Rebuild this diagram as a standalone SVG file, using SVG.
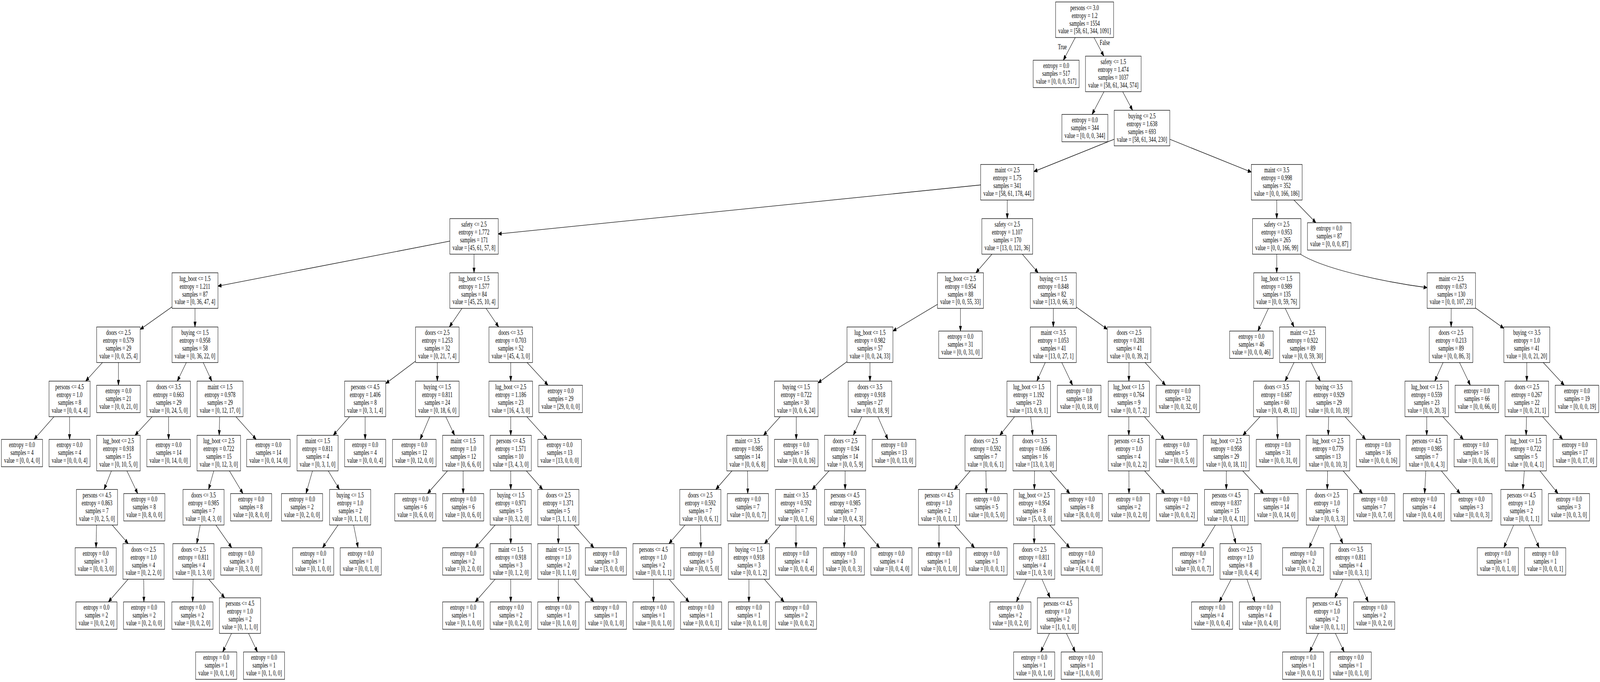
<svg xmlns="http://www.w3.org/2000/svg" xmlns:xlink="http://www.w3.org/1999/xlink" width="6187" height="1745" viewBox="0 0 6187 1745" preserveAspectRatio="none">
<style>
svg{width:100%;height:100%}
.box{fill:#fff;stroke:#000;stroke-width:1.33}
#edges line,#edges path{stroke:#000;stroke-width:1.33;fill:none;marker-end:url(#ah)}
text{font-family:"Liberation Serif","Times New Roman",serif;font-size:18.67px;text-anchor:middle;fill:#000}
</style>
<defs>
<marker id="ah" markerUnits="userSpaceOnUse" markerWidth="14" markerHeight="11" viewBox="0 0 14 11" refX="13.3" refY="5.5" orient="auto"><path d="M0,0.5 L13.3,5.5 L0,10.5 z" fill="#000" stroke="#000" stroke-width="1"/></marker>
<rect id="D4" class="box" x="-79.5" y="-45.5" width="159" height="91"/>
<rect id="D5" class="box" x="-84.2" y="-45.5" width="168.4" height="91"/>
<rect id="D6" class="box" x="-88.85" y="-45.5" width="177.7" height="91"/>
<rect id="D7" class="box" x="-93.5" y="-45.5" width="187" height="91"/>
<rect id="D8" class="box" x="-98.2" y="-45.5" width="196.4" height="91"/>
<rect id="D9" class="box" x="-102.85" y="-45.5" width="205.7" height="91"/>
<rect id="D10" class="box" x="-107.55" y="-45.5" width="215.1" height="91"/>
<rect id="D11" class="box" x="-112.2" y="-45.5" width="224.4" height="91"/>
<rect id="L4" class="box" x="-79.5" y="-35" width="159" height="70"/>
<rect id="L5" class="box" x="-84.2" y="-35" width="168.4" height="70"/>
<rect id="L6" class="box" x="-88.85" y="-35" width="177.7" height="70"/>
</defs>
<rect x="0" y="0" width="6187" height="1745" fill="#fff"/>
<g id="edges">
<line x1="4194" y1="50.5" x2="4111.9" y2="154.1"/>
<line x1="4194" y1="50.5" x2="4268.4" y2="143.6"/>
<line x1="4305" y1="189.1" x2="4222.9" y2="292.7"/>
<line x1="4305" y1="189.1" x2="4379.4" y2="282.2"/>
<line x1="4416" y1="327.7" x2="3997.9" y2="439"/>
<line x1="4416" y1="327.7" x2="4838.8" y2="440.3"/>
<line x1="3895" y1="466.3" x2="1926.5" y2="598.6"/>
<line x1="3895" y1="466.3" x2="3895" y2="559.4"/>
<line x1="4937" y1="466.3" x2="4937" y2="559.4"/>
<line x1="4937" y1="466.3" x2="5088.5" y2="569.9"/>
<line x1="1833" y1="604.9" x2="842.9" y2="732.1"/>
<line x1="1833" y1="604.9" x2="1833" y2="698"/>
<line x1="754" y1="743.5" x2="542.2" y2="842.8"/>
<line x1="754" y1="743.5" x2="754" y2="836.6"/>
<line x1="458" y1="882.1" x2="331.3" y2="975.2"/>
<line x1="458" y1="882.1" x2="458" y2="985.7"/>
<line x1="269" y1="1020.7" x2="131.7" y2="1124.3"/>
<line x1="269" y1="1020.7" x2="269" y2="1124.3"/>
<line x1="754" y1="882.1" x2="685.6" y2="975.2"/>
<line x1="754" y1="882.1" x2="819" y2="975.2"/>
<line x1="652" y1="1020.7" x2="522" y2="1113.8"/>
<line x1="652" y1="1020.7" x2="652" y2="1124.3"/>
<line x1="458" y1="1159.3" x2="402.4" y2="1252.4"/>
<line x1="458" y1="1159.3" x2="532.6" y2="1262.9"/>
<line x1="375" y1="1297.9" x2="371.3" y2="1401.5"/>
<line x1="375" y1="1297.9" x2="495.7" y2="1391"/>
<line x1="555" y1="1436.5" x2="419.2" y2="1540.1"/>
<line x1="555" y1="1436.5" x2="556.5" y2="1540.1"/>
<line x1="851" y1="1020.7" x2="847.6" y2="1113.8"/>
<line x1="851" y1="1020.7" x2="990.6" y2="1124.3"/>
<line x1="846" y1="1159.3" x2="806.5" y2="1252.4"/>
<line x1="846" y1="1159.3" x2="939.3" y2="1262.9"/>
<line x1="787" y1="1297.9" x2="760.9" y2="1391"/>
<line x1="787" y1="1297.9" x2="896" y2="1401.5"/>
<line x1="748" y1="1436.5" x2="745" y2="1540.1"/>
<line x1="748" y1="1436.5" x2="868.7" y2="1529.6"/>
<line x1="928" y1="1575.1" x2="861.1" y2="1668.2"/>
<line x1="928" y1="1575.1" x2="995.6" y2="1668.2"/>
<line x1="1833" y1="743.5" x2="1737.8" y2="836.6"/>
<line x1="1833" y1="743.5" x2="1928.2" y2="836.6"/>
<line x1="1691" y1="882.1" x2="1491.5" y2="981.4"/>
<line x1="1691" y1="882.1" x2="1691" y2="975.2"/>
<line x1="1412" y1="1020.7" x2="1288.7" y2="1113.8"/>
<line x1="1412" y1="1020.7" x2="1412" y2="1124.3"/>
<line x1="1228" y1="1159.3" x2="1183.2" y2="1262.9"/>
<line x1="1228" y1="1159.3" x2="1312.5" y2="1252.4"/>
<line x1="1354" y1="1297.9" x2="1247.3" y2="1401.5"/>
<line x1="1354" y1="1297.9" x2="1384.6" y2="1401.5"/>
<line x1="1691" y1="1020.7" x2="1624.6" y2="1124.3"/>
<line x1="1691" y1="1020.7" x2="1758" y2="1113.8"/>
<line x1="1791" y1="1159.3" x2="1652.9" y2="1262.9"/>
<line x1="1791" y1="1159.3" x2="1791" y2="1262.9"/>
<line x1="1975" y1="882.1" x2="1975" y2="975.2"/>
<line x1="1975" y1="882.1" x2="2119.1" y2="985.7"/>
<line x1="1975" y1="1020.7" x2="1975" y2="1113.8"/>
<line x1="1975" y1="1020.7" x2="2116.1" y2="1124.3"/>
<line x1="1975" y1="1159.3" x2="1975" y2="1252.4"/>
<line x1="1975" y1="1159.3" x2="2098.3" y2="1252.4"/>
<line x1="1975" y1="1297.9" x2="1837.7" y2="1401.5"/>
<line x1="1975" y1="1297.9" x2="1975" y2="1391"/>
<line x1="1975" y1="1436.5" x2="1837.7" y2="1540.1"/>
<line x1="1975" y1="1436.5" x2="1975" y2="1540.1"/>
<line x1="2159" y1="1297.9" x2="2159" y2="1391"/>
<line x1="2159" y1="1297.9" x2="2296.3" y2="1401.5"/>
<line x1="2159" y1="1436.5" x2="2159" y2="1540.1"/>
<line x1="2159" y1="1436.5" x2="2296.3" y2="1540.1"/>
<line x1="3895" y1="604.9" x2="3773.7" y2="698"/>
<line x1="3895" y1="604.9" x2="4014.3" y2="698"/>
<line x1="3714" y1="743.5" x2="3452.9" y2="847"/>
<line x1="3714" y1="743.5" x2="3714" y2="847.1"/>
<line x1="3364" y1="882.1" x2="3163.2" y2="979.9"/>
<line x1="3364" y1="882.1" x2="3364" y2="975.2"/>
<line x1="3079" y1="1020.7" x2="2952.3" y2="1113.8"/>
<line x1="3079" y1="1020.7" x2="3079" y2="1124.3"/>
<line x1="2890" y1="1159.3" x2="2768" y2="1252.4"/>
<line x1="2890" y1="1159.3" x2="2891.5" y2="1262.9"/>
<line x1="2708" y1="1297.9" x2="2586.7" y2="1391"/>
<line x1="2708" y1="1297.9" x2="2710.2" y2="1401.5"/>
<line x1="2527" y1="1436.5" x2="2527" y2="1540.1"/>
<line x1="2527" y1="1436.5" x2="2664.3" y2="1540.1"/>
<line x1="3364" y1="1020.7" x2="3299.7" y2="1113.8"/>
<line x1="3364" y1="1020.7" x2="3433.4" y2="1124.3"/>
<line x1="3268" y1="1159.3" x2="3140.6" y2="1252.4"/>
<line x1="3268" y1="1159.3" x2="3268" y2="1252.4"/>
<line x1="3078" y1="1297.9" x2="2956" y2="1391"/>
<line x1="3078" y1="1297.9" x2="3078" y2="1401.5"/>
<line x1="2896" y1="1436.5" x2="2896" y2="1540.1"/>
<line x1="2896" y1="1436.5" x2="3031.8" y2="1540.1"/>
<line x1="3268" y1="1297.9" x2="3264.3" y2="1401.5"/>
<line x1="3268" y1="1297.9" x2="3401.6" y2="1401.5"/>
<line x1="4073" y1="743.5" x2="4073" y2="836.6"/>
<line x1="4073" y1="743.5" x2="4281.8" y2="842.4"/>
<line x1="4073" y1="882.1" x2="4009.3" y2="975.2"/>
<line x1="4073" y1="882.1" x2="4147.6" y2="985.7"/>
<line x1="3978" y1="1020.7" x2="3866.1" y2="1113.8"/>
<line x1="3978" y1="1020.7" x2="3993.4" y2="1113.8"/>
<line x1="3811" y1="1159.3" x2="3690.3" y2="1252.4"/>
<line x1="3811" y1="1159.3" x2="3814" y2="1262.9"/>
<line x1="3631" y1="1297.9" x2="3631" y2="1401.5"/>
<line x1="3631" y1="1297.9" x2="3768.3" y2="1401.5"/>
<line x1="4001" y1="1159.3" x2="3999.7" y2="1252.4"/>
<line x1="4001" y1="1159.3" x2="4136.8" y2="1262.9"/>
<line x1="3999" y1="1297.9" x2="3999" y2="1391"/>
<line x1="3999" y1="1297.9" x2="4136.3" y2="1401.5"/>
<line x1="3999" y1="1436.5" x2="3930.3" y2="1540.1"/>
<line x1="3999" y1="1436.5" x2="4060.7" y2="1529.6"/>
<line x1="4091" y1="1575.1" x2="4024.1" y2="1668.2"/>
<line x1="4091" y1="1575.1" x2="4157.9" y2="1668.2"/>
<line x1="4366" y1="882.1" x2="4365.3" y2="975.2"/>
<line x1="4366" y1="882.1" x2="4507.1" y2="985.7"/>
<line x1="4365" y1="1020.7" x2="4365" y2="1113.8"/>
<line x1="4365" y1="1020.7" x2="4502.3" y2="1124.3"/>
<line x1="4365" y1="1159.3" x2="4365.7" y2="1262.9"/>
<line x1="4365" y1="1159.3" x2="4503.8" y2="1262.9"/>
<line x1="4937" y1="604.9" x2="4937" y2="698"/>
<path d="M5030,651 C5130,692 5380,724 5518.5,736"/>
<line x1="4937" y1="743.5" x2="4863.9" y2="847.1"/>
<line x1="4937" y1="743.5" x2="5004" y2="836.6"/>
<line x1="5037" y1="882.1" x2="4969.3" y2="975.2"/>
<line x1="5037" y1="882.1" x2="5105.4" y2="975.2"/>
<line x1="4936" y1="1020.7" x2="4806" y2="1113.8"/>
<line x1="4936" y1="1020.7" x2="4940.5" y2="1124.3"/>
<line x1="4742" y1="1159.3" x2="4742" y2="1252.4"/>
<line x1="4742" y1="1159.3" x2="4886.1" y2="1262.9"/>
<line x1="4742" y1="1297.9" x2="4645.7" y2="1401.5"/>
<line x1="4742" y1="1297.9" x2="4778.9" y2="1391"/>
<line x1="4797" y1="1436.5" x2="4714.9" y2="1540.1"/>
<line x1="4797" y1="1436.5" x2="4853" y2="1540.1"/>
<line x1="5139" y1="1020.7" x2="5136.3" y2="1113.8"/>
<line x1="5139" y1="1020.7" x2="5280.8" y2="1124.3"/>
<line x1="5135" y1="1159.3" x2="5132.3" y2="1252.4"/>
<line x1="5135" y1="1159.3" x2="5268.6" y2="1262.9"/>
<line x1="5131" y1="1297.9" x2="5062.3" y2="1401.5"/>
<line x1="5131" y1="1297.9" x2="5192.7" y2="1391"/>
<line x1="5223" y1="1436.5" x2="5161.3" y2="1529.6"/>
<line x1="5223" y1="1436.5" x2="5290.9" y2="1540.1"/>
<line x1="5131" y1="1575.1" x2="5064.1" y2="1668.2"/>
<line x1="5131" y1="1575.1" x2="5197.9" y2="1668.2"/>
<line x1="5612" y1="743.5" x2="5611.3" y2="836.6"/>
<line x1="5612" y1="743.5" x2="5815.1" y2="840.1"/>
<line x1="5611" y1="882.1" x2="5548" y2="975.2"/>
<line x1="5611" y1="882.1" x2="5685.6" y2="985.7"/>
<line x1="5517" y1="1020.7" x2="5517" y2="1113.8"/>
<line x1="5517" y1="1020.7" x2="5658.8" y2="1124.3"/>
<line x1="5517" y1="1159.3" x2="5508.8" y2="1262.9"/>
<line x1="5517" y1="1159.3" x2="5646.1" y2="1262.9"/>
<line x1="5904" y1="882.1" x2="5904" y2="975.2"/>
<line x1="5904" y1="882.1" x2="6048.8" y2="985.7"/>
<line x1="5904" y1="1020.7" x2="5901.3" y2="1113.8"/>
<line x1="5904" y1="1020.7" x2="6042.8" y2="1124.3"/>
<line x1="5900" y1="1159.3" x2="5888.6" y2="1252.4"/>
<line x1="5900" y1="1159.3" x2="6024.6" y2="1262.9"/>
<line x1="5883" y1="1297.9" x2="5815.1" y2="1401.5"/>
<line x1="5883" y1="1297.9" x2="5951.7" y2="1401.5"/>
</g>
<g id="edge-labels">
<text x="4108" y="126">True</text>
<text x="4272" y="115">False</text>
</g>
<g id="n0" transform="translate(4194,50.5)"><use href="#D11"/><text y="-25"><tspan x="0">persons &lt;= 3.0</tspan><tspan x="0" dy="20">entropy = 1.2</tspan><tspan x="0" dy="20">samples = 1554</tspan><tspan x="0" dy="20">value = [58, 61, 344, 1091]</tspan></text></g>
<g id="n1" transform="translate(4084,189.1)"><use href="#L6"/><text y="-15"><tspan x="0">entropy = 0.0</tspan><tspan x="0" dy="20">samples = 517</tspan><tspan x="0" dy="20">value = [0, 0, 0, 517]</tspan></text></g>
<g id="n2" transform="translate(4305,189.1)"><use href="#D10"/><text y="-25"><tspan x="0">safety &lt;= 1.5</tspan><tspan x="0" dy="20">entropy = 1.474</tspan><tspan x="0" dy="20">samples = 1037</tspan><tspan x="0" dy="20">value = [58, 61, 344, 574]</tspan></text></g>
<g id="n3" transform="translate(4195,327.7)"><use href="#L6"/><text y="-15"><tspan x="0">entropy = 0.0</tspan><tspan x="0" dy="20">samples = 344</tspan><tspan x="0" dy="20">value = [0, 0, 0, 344]</tspan></text></g>
<g id="n4" transform="translate(4416,327.7)"><use href="#D10"/><text y="-25"><tspan x="0">buying &lt;= 2.5</tspan><tspan x="0" dy="20">entropy = 1.638</tspan><tspan x="0" dy="20">samples = 693</tspan><tspan x="0" dy="20">value = [58, 61, 344, 230]</tspan></text></g>
<g id="n5" transform="translate(3895,466.3)"><use href="#D9"/><text y="-25"><tspan x="0">maint &lt;= 2.5</tspan><tspan x="0" dy="20">entropy = 1.75</tspan><tspan x="0" dy="20">samples = 341</tspan><tspan x="0" dy="20">value = [58, 61, 178, 44]</tspan></text></g>
<g id="n6" transform="translate(1833,604.9)"><use href="#D7"/><text y="-25"><tspan x="0">safety &lt;= 2.5</tspan><tspan x="0" dy="20">entropy = 1.772</tspan><tspan x="0" dy="20">samples = 171</tspan><tspan x="0" dy="20">value = [45, 61, 57, 8]</tspan></text></g>
<g id="n7" transform="translate(754,743.5)"><use href="#D6"/><text y="-25"><tspan x="0">lug_boot &lt;= 1.5</tspan><tspan x="0" dy="20">entropy = 1.211</tspan><tspan x="0" dy="20">samples = 87</tspan><tspan x="0" dy="20">value = [0, 36, 47, 4]</tspan></text></g>
<g id="n8" transform="translate(458,882.1)"><use href="#D5"/><text y="-25"><tspan x="0">doors &lt;= 2.5</tspan><tspan x="0" dy="20">entropy = 0.579</tspan><tspan x="0" dy="20">samples = 29</tspan><tspan x="0" dy="20">value = [0, 0, 25, 4]</tspan></text></g>
<g id="n9" transform="translate(269,1020.7)"><use href="#D4"/><text y="-25"><tspan x="0">persons &lt;= 4.5</tspan><tspan x="0" dy="20">entropy = 1.0</tspan><tspan x="0" dy="20">samples = 8</tspan><tspan x="0" dy="20">value = [0, 0, 4, 4]</tspan></text></g>
<g id="n10" transform="translate(85,1159.3)"><use href="#L4"/><text y="-15"><tspan x="0">entropy = 0.0</tspan><tspan x="0" dy="20">samples = 4</tspan><tspan x="0" dy="20">value = [0, 0, 4, 0]</tspan></text></g>
<g id="n11" transform="translate(269,1159.3)"><use href="#L4"/><text y="-15"><tspan x="0">entropy = 0.0</tspan><tspan x="0" dy="20">samples = 4</tspan><tspan x="0" dy="20">value = [0, 0, 0, 4]</tspan></text></g>
<g id="n12" transform="translate(458,1020.7)"><use href="#L5"/><text y="-15"><tspan x="0">entropy = 0.0</tspan><tspan x="0" dy="20">samples = 21</tspan><tspan x="0" dy="20">value = [0, 0, 21, 0]</tspan></text></g>
<g id="n13" transform="translate(754,882.1)"><use href="#D6"/><text y="-25"><tspan x="0">buying &lt;= 1.5</tspan><tspan x="0" dy="20">entropy = 0.958</tspan><tspan x="0" dy="20">samples = 58</tspan><tspan x="0" dy="20">value = [0, 36, 22, 0]</tspan></text></g>
<g id="n14" transform="translate(652,1020.7)"><use href="#D5"/><text y="-25"><tspan x="0">doors &lt;= 3.5</tspan><tspan x="0" dy="20">entropy = 0.663</tspan><tspan x="0" dy="20">samples = 29</tspan><tspan x="0" dy="20">value = [0, 24, 5, 0]</tspan></text></g>
<g id="n15" transform="translate(458,1159.3)"><use href="#D5"/><text y="-25"><tspan x="0">lug_boot &lt;= 2.5</tspan><tspan x="0" dy="20">entropy = 0.918</tspan><tspan x="0" dy="20">samples = 15</tspan><tspan x="0" dy="20">value = [0, 10, 5, 0]</tspan></text></g>
<g id="n16" transform="translate(375,1297.9)"><use href="#D4"/><text y="-25"><tspan x="0">persons &lt;= 4.5</tspan><tspan x="0" dy="20">entropy = 0.863</tspan><tspan x="0" dy="20">samples = 7</tspan><tspan x="0" dy="20">value = [0, 2, 5, 0]</tspan></text></g>
<g id="n17" transform="translate(370,1436.5)"><use href="#L4"/><text y="-15"><tspan x="0">entropy = 0.0</tspan><tspan x="0" dy="20">samples = 3</tspan><tspan x="0" dy="20">value = [0, 0, 3, 0]</tspan></text></g>
<g id="n18" transform="translate(555,1436.5)"><use href="#D4"/><text y="-25"><tspan x="0">doors &lt;= 2.5</tspan><tspan x="0" dy="20">entropy = 1.0</tspan><tspan x="0" dy="20">samples = 4</tspan><tspan x="0" dy="20">value = [0, 2, 2, 0]</tspan></text></g>
<g id="n19" transform="translate(373,1575.1)"><use href="#L4"/><text y="-15"><tspan x="0">entropy = 0.0</tspan><tspan x="0" dy="20">samples = 2</tspan><tspan x="0" dy="20">value = [0, 0, 2, 0]</tspan></text></g>
<g id="n20" transform="translate(557,1575.1)"><use href="#L4"/><text y="-15"><tspan x="0">entropy = 0.0</tspan><tspan x="0" dy="20">samples = 2</tspan><tspan x="0" dy="20">value = [0, 2, 0, 0]</tspan></text></g>
<g id="n21" transform="translate(558,1297.9)"><use href="#L4"/><text y="-15"><tspan x="0">entropy = 0.0</tspan><tspan x="0" dy="20">samples = 8</tspan><tspan x="0" dy="20">value = [0, 8, 0, 0]</tspan></text></g>
<g id="n22" transform="translate(652,1159.3)"><use href="#L5"/><text y="-15"><tspan x="0">entropy = 0.0</tspan><tspan x="0" dy="20">samples = 14</tspan><tspan x="0" dy="20">value = [0, 14, 0, 0]</tspan></text></g>
<g id="n23" transform="translate(851,1020.7)"><use href="#D6"/><text y="-25"><tspan x="0">maint &lt;= 1.5</tspan><tspan x="0" dy="20">entropy = 0.978</tspan><tspan x="0" dy="20">samples = 29</tspan><tspan x="0" dy="20">value = [0, 12, 17, 0]</tspan></text></g>
<g id="n24" transform="translate(846,1159.3)"><use href="#D5"/><text y="-25"><tspan x="0">lug_boot &lt;= 2.5</tspan><tspan x="0" dy="20">entropy = 0.722</tspan><tspan x="0" dy="20">samples = 15</tspan><tspan x="0" dy="20">value = [0, 12, 3, 0]</tspan></text></g>
<g id="n25" transform="translate(787,1297.9)"><use href="#D4"/><text y="-25"><tspan x="0">doors &lt;= 3.5</tspan><tspan x="0" dy="20">entropy = 0.985</tspan><tspan x="0" dy="20">samples = 7</tspan><tspan x="0" dy="20">value = [0, 4, 3, 0]</tspan></text></g>
<g id="n26" transform="translate(748,1436.5)"><use href="#D4"/><text y="-25"><tspan x="0">doors &lt;= 2.5</tspan><tspan x="0" dy="20">entropy = 0.811</tspan><tspan x="0" dy="20">samples = 4</tspan><tspan x="0" dy="20">value = [0, 1, 3, 0]</tspan></text></g>
<g id="n27" transform="translate(744,1575.1)"><use href="#L4"/><text y="-15"><tspan x="0">entropy = 0.0</tspan><tspan x="0" dy="20">samples = 2</tspan><tspan x="0" dy="20">value = [0, 0, 2, 0]</tspan></text></g>
<g id="n28" transform="translate(928,1575.1)"><use href="#D4"/><text y="-25"><tspan x="0">persons &lt;= 4.5</tspan><tspan x="0" dy="20">entropy = 1.0</tspan><tspan x="0" dy="20">samples = 2</tspan><tspan x="0" dy="20">value = [0, 1, 1, 0]</tspan></text></g>
<g id="n29" transform="translate(836,1703.2)"><use href="#L4"/><text y="-15"><tspan x="0">entropy = 0.0</tspan><tspan x="0" dy="20">samples = 1</tspan><tspan x="0" dy="20">value = [0, 0, 1, 0]</tspan></text></g>
<g id="n30" transform="translate(1021,1703.2)"><use href="#L4"/><text y="-15"><tspan x="0">entropy = 0.0</tspan><tspan x="0" dy="20">samples = 1</tspan><tspan x="0" dy="20">value = [0, 1, 0, 0]</tspan></text></g>
<g id="n31" transform="translate(933,1436.5)"><use href="#L4"/><text y="-15"><tspan x="0">entropy = 0.0</tspan><tspan x="0" dy="20">samples = 3</tspan><tspan x="0" dy="20">value = [0, 3, 0, 0]</tspan></text></g>
<g id="n32" transform="translate(971,1297.9)"><use href="#L4"/><text y="-15"><tspan x="0">entropy = 0.0</tspan><tspan x="0" dy="20">samples = 8</tspan><tspan x="0" dy="20">value = [0, 8, 0, 0]</tspan></text></g>
<g id="n33" transform="translate(1038,1159.3)"><use href="#L5"/><text y="-15"><tspan x="0">entropy = 0.0</tspan><tspan x="0" dy="20">samples = 14</tspan><tspan x="0" dy="20">value = [0, 0, 14, 0]</tspan></text></g>
<g id="n34" transform="translate(1833,743.5)"><use href="#D7"/><text y="-25"><tspan x="0">lug_boot &lt;= 1.5</tspan><tspan x="0" dy="20">entropy = 1.577</tspan><tspan x="0" dy="20">samples = 84</tspan><tspan x="0" dy="20">value = [45, 25, 10, 4]</tspan></text></g>
<g id="n35" transform="translate(1691,882.1)"><use href="#D5"/><text y="-25"><tspan x="0">doors &lt;= 2.5</tspan><tspan x="0" dy="20">entropy = 1.253</tspan><tspan x="0" dy="20">samples = 32</tspan><tspan x="0" dy="20">value = [0, 21, 7, 4]</tspan></text></g>
<g id="n36" transform="translate(1412,1020.7)"><use href="#D4"/><text y="-25"><tspan x="0">persons &lt;= 4.5</tspan><tspan x="0" dy="20">entropy = 1.406</tspan><tspan x="0" dy="20">samples = 8</tspan><tspan x="0" dy="20">value = [0, 3, 1, 4]</tspan></text></g>
<g id="n37" transform="translate(1228,1159.3)"><use href="#D4"/><text y="-25"><tspan x="0">maint &lt;= 1.5</tspan><tspan x="0" dy="20">entropy = 0.811</tspan><tspan x="0" dy="20">samples = 4</tspan><tspan x="0" dy="20">value = [0, 3, 1, 0]</tspan></text></g>
<g id="n38" transform="translate(1168,1297.9)"><use href="#L4"/><text y="-15"><tspan x="0">entropy = 0.0</tspan><tspan x="0" dy="20">samples = 2</tspan><tspan x="0" dy="20">value = [0, 2, 0, 0]</tspan></text></g>
<g id="n39" transform="translate(1354,1297.9)"><use href="#D4"/><text y="-25"><tspan x="0">buying &lt;= 1.5</tspan><tspan x="0" dy="20">entropy = 1.0</tspan><tspan x="0" dy="20">samples = 2</tspan><tspan x="0" dy="20">value = [0, 1, 1, 0]</tspan></text></g>
<g id="n40" transform="translate(1211,1436.5)"><use href="#L4"/><text y="-15"><tspan x="0">entropy = 0.0</tspan><tspan x="0" dy="20">samples = 1</tspan><tspan x="0" dy="20">value = [0, 1, 0, 0]</tspan></text></g>
<g id="n41" transform="translate(1395,1436.5)"><use href="#L4"/><text y="-15"><tspan x="0">entropy = 0.0</tspan><tspan x="0" dy="20">samples = 1</tspan><tspan x="0" dy="20">value = [0, 0, 1, 0]</tspan></text></g>
<g id="n42" transform="translate(1412,1159.3)"><use href="#L4"/><text y="-15"><tspan x="0">entropy = 0.0</tspan><tspan x="0" dy="20">samples = 4</tspan><tspan x="0" dy="20">value = [0, 0, 0, 4]</tspan></text></g>
<g id="n43" transform="translate(1691,1020.7)"><use href="#D5"/><text y="-25"><tspan x="0">buying &lt;= 1.5</tspan><tspan x="0" dy="20">entropy = 0.811</tspan><tspan x="0" dy="20">samples = 24</tspan><tspan x="0" dy="20">value = [0, 18, 6, 0]</tspan></text></g>
<g id="n44" transform="translate(1602,1159.3)"><use href="#L5"/><text y="-15"><tspan x="0">entropy = 0.0</tspan><tspan x="0" dy="20">samples = 12</tspan><tspan x="0" dy="20">value = [0, 12, 0, 0]</tspan></text></g>
<g id="n45" transform="translate(1791,1159.3)"><use href="#D4"/><text y="-25"><tspan x="0">maint &lt;= 1.5</tspan><tspan x="0" dy="20">entropy = 1.0</tspan><tspan x="0" dy="20">samples = 12</tspan><tspan x="0" dy="20">value = [0, 6, 6, 0]</tspan></text></g>
<g id="n46" transform="translate(1606,1297.9)"><use href="#L4"/><text y="-15"><tspan x="0">entropy = 0.0</tspan><tspan x="0" dy="20">samples = 6</tspan><tspan x="0" dy="20">value = [0, 6, 0, 0]</tspan></text></g>
<g id="n47" transform="translate(1791,1297.9)"><use href="#L4"/><text y="-15"><tspan x="0">entropy = 0.0</tspan><tspan x="0" dy="20">samples = 6</tspan><tspan x="0" dy="20">value = [0, 0, 6, 0]</tspan></text></g>
<g id="n48" transform="translate(1975,882.1)"><use href="#D5"/><text y="-25"><tspan x="0">doors &lt;= 3.5</tspan><tspan x="0" dy="20">entropy = 0.703</tspan><tspan x="0" dy="20">samples = 52</tspan><tspan x="0" dy="20">value = [45, 4, 3, 0]</tspan></text></g>
<g id="n49" transform="translate(1975,1020.7)"><use href="#D5"/><text y="-25"><tspan x="0">lug_boot &lt;= 2.5</tspan><tspan x="0" dy="20">entropy = 1.186</tspan><tspan x="0" dy="20">samples = 23</tspan><tspan x="0" dy="20">value = [16, 4, 3, 0]</tspan></text></g>
<g id="n50" transform="translate(1975,1159.3)"><use href="#D4"/><text y="-25"><tspan x="0">persons &lt;= 4.5</tspan><tspan x="0" dy="20">entropy = 1.571</tspan><tspan x="0" dy="20">samples = 10</tspan><tspan x="0" dy="20">value = [3, 4, 3, 0]</tspan></text></g>
<g id="n51" transform="translate(1975,1297.9)"><use href="#D4"/><text y="-25"><tspan x="0">buying &lt;= 1.5</tspan><tspan x="0" dy="20">entropy = 0.971</tspan><tspan x="0" dy="20">samples = 5</tspan><tspan x="0" dy="20">value = [0, 3, 2, 0]</tspan></text></g>
<g id="n52" transform="translate(1791,1436.5)"><use href="#L4"/><text y="-15"><tspan x="0">entropy = 0.0</tspan><tspan x="0" dy="20">samples = 2</tspan><tspan x="0" dy="20">value = [0, 2, 0, 0]</tspan></text></g>
<g id="n53" transform="translate(1975,1436.5)"><use href="#D4"/><text y="-25"><tspan x="0">maint &lt;= 1.5</tspan><tspan x="0" dy="20">entropy = 0.918</tspan><tspan x="0" dy="20">samples = 3</tspan><tspan x="0" dy="20">value = [0, 1, 2, 0]</tspan></text></g>
<g id="n54" transform="translate(1791,1575.1)"><use href="#L4"/><text y="-15"><tspan x="0">entropy = 0.0</tspan><tspan x="0" dy="20">samples = 1</tspan><tspan x="0" dy="20">value = [0, 1, 0, 0]</tspan></text></g>
<g id="n55" transform="translate(1975,1575.1)"><use href="#L4"/><text y="-15"><tspan x="0">entropy = 0.0</tspan><tspan x="0" dy="20">samples = 2</tspan><tspan x="0" dy="20">value = [0, 0, 2, 0]</tspan></text></g>
<g id="n56" transform="translate(2159,1297.9)"><use href="#D4"/><text y="-25"><tspan x="0">doors &lt;= 2.5</tspan><tspan x="0" dy="20">entropy = 1.371</tspan><tspan x="0" dy="20">samples = 5</tspan><tspan x="0" dy="20">value = [3, 1, 1, 0]</tspan></text></g>
<g id="n57" transform="translate(2159,1436.5)"><use href="#D4"/><text y="-25"><tspan x="0">maint &lt;= 1.5</tspan><tspan x="0" dy="20">entropy = 1.0</tspan><tspan x="0" dy="20">samples = 2</tspan><tspan x="0" dy="20">value = [0, 1, 1, 0]</tspan></text></g>
<g id="n58" transform="translate(2159,1575.1)"><use href="#L4"/><text y="-15"><tspan x="0">entropy = 0.0</tspan><tspan x="0" dy="20">samples = 1</tspan><tspan x="0" dy="20">value = [0, 1, 0, 0]</tspan></text></g>
<g id="n59" transform="translate(2343,1575.1)"><use href="#L4"/><text y="-15"><tspan x="0">entropy = 0.0</tspan><tspan x="0" dy="20">samples = 1</tspan><tspan x="0" dy="20">value = [0, 0, 1, 0]</tspan></text></g>
<g id="n60" transform="translate(2343,1436.5)"><use href="#L4"/><text y="-15"><tspan x="0">entropy = 0.0</tspan><tspan x="0" dy="20">samples = 3</tspan><tspan x="0" dy="20">value = [3, 0, 0, 0]</tspan></text></g>
<g id="n61" transform="translate(2164,1159.3)"><use href="#L5"/><text y="-15"><tspan x="0">entropy = 0.0</tspan><tspan x="0" dy="20">samples = 13</tspan><tspan x="0" dy="20">value = [13, 0, 0, 0]</tspan></text></g>
<g id="n62" transform="translate(2168,1020.7)"><use href="#L5"/><text y="-15"><tspan x="0">entropy = 0.0</tspan><tspan x="0" dy="20">samples = 29</tspan><tspan x="0" dy="20">value = [29, 0, 0, 0]</tspan></text></g>
<g id="n63" transform="translate(3895,604.9)"><use href="#D8"/><text y="-25"><tspan x="0">safety &lt;= 2.5</tspan><tspan x="0" dy="20">entropy = 1.107</tspan><tspan x="0" dy="20">samples = 170</tspan><tspan x="0" dy="20">value = [13, 0, 121, 36]</tspan></text></g>
<g id="n64" transform="translate(3714,743.5)"><use href="#D6"/><text y="-25"><tspan x="0">lug_boot &lt;= 2.5</tspan><tspan x="0" dy="20">entropy = 0.954</tspan><tspan x="0" dy="20">samples = 88</tspan><tspan x="0" dy="20">value = [0, 0, 55, 33]</tspan></text></g>
<g id="n65" transform="translate(3364,882.1)"><use href="#D6"/><text y="-25"><tspan x="0">lug_boot &lt;= 1.5</tspan><tspan x="0" dy="20">entropy = 0.982</tspan><tspan x="0" dy="20">samples = 57</tspan><tspan x="0" dy="20">value = [0, 0, 24, 33]</tspan></text></g>
<g id="n66" transform="translate(3079,1020.7)"><use href="#D5"/><text y="-25"><tspan x="0">buying &lt;= 1.5</tspan><tspan x="0" dy="20">entropy = 0.722</tspan><tspan x="0" dy="20">samples = 30</tspan><tspan x="0" dy="20">value = [0, 0, 6, 24]</tspan></text></g>
<g id="n67" transform="translate(2890,1159.3)"><use href="#D4"/><text y="-25"><tspan x="0">maint &lt;= 3.5</tspan><tspan x="0" dy="20">entropy = 0.985</tspan><tspan x="0" dy="20">samples = 14</tspan><tspan x="0" dy="20">value = [0, 0, 6, 8]</tspan></text></g>
<g id="n68" transform="translate(2708,1297.9)"><use href="#D4"/><text y="-25"><tspan x="0">doors &lt;= 2.5</tspan><tspan x="0" dy="20">entropy = 0.592</tspan><tspan x="0" dy="20">samples = 7</tspan><tspan x="0" dy="20">value = [0, 0, 6, 1]</tspan></text></g>
<g id="n69" transform="translate(2527,1436.5)"><use href="#D4"/><text y="-25"><tspan x="0">persons &lt;= 4.5</tspan><tspan x="0" dy="20">entropy = 1.0</tspan><tspan x="0" dy="20">samples = 2</tspan><tspan x="0" dy="20">value = [0, 0, 1, 1]</tspan></text></g>
<g id="n70" transform="translate(2527,1575.1)"><use href="#L4"/><text y="-15"><tspan x="0">entropy = 0.0</tspan><tspan x="0" dy="20">samples = 1</tspan><tspan x="0" dy="20">value = [0, 0, 1, 0]</tspan></text></g>
<g id="n71" transform="translate(2711,1575.1)"><use href="#L4"/><text y="-15"><tspan x="0">entropy = 0.0</tspan><tspan x="0" dy="20">samples = 1</tspan><tspan x="0" dy="20">value = [0, 0, 0, 1]</tspan></text></g>
<g id="n72" transform="translate(2711,1436.5)"><use href="#L4"/><text y="-15"><tspan x="0">entropy = 0.0</tspan><tspan x="0" dy="20">samples = 5</tspan><tspan x="0" dy="20">value = [0, 0, 5, 0]</tspan></text></g>
<g id="n73" transform="translate(2892,1297.9)"><use href="#L4"/><text y="-15"><tspan x="0">entropy = 0.0</tspan><tspan x="0" dy="20">samples = 7</tspan><tspan x="0" dy="20">value = [0, 0, 0, 7]</tspan></text></g>
<g id="n74" transform="translate(3079,1159.3)"><use href="#L5"/><text y="-15"><tspan x="0">entropy = 0.0</tspan><tspan x="0" dy="20">samples = 16</tspan><tspan x="0" dy="20">value = [0, 0, 0, 16]</tspan></text></g>
<g id="n75" transform="translate(3364,1020.7)"><use href="#D5"/><text y="-25"><tspan x="0">doors &lt;= 3.5</tspan><tspan x="0" dy="20">entropy = 0.918</tspan><tspan x="0" dy="20">samples = 27</tspan><tspan x="0" dy="20">value = [0, 0, 18, 9]</tspan></text></g>
<g id="n76" transform="translate(3268,1159.3)"><use href="#D4"/><text y="-25"><tspan x="0">doors &lt;= 2.5</tspan><tspan x="0" dy="20">entropy = 0.94</tspan><tspan x="0" dy="20">samples = 14</tspan><tspan x="0" dy="20">value = [0, 0, 5, 9]</tspan></text></g>
<g id="n77" transform="translate(3078,1297.9)"><use href="#D4"/><text y="-25"><tspan x="0">maint &lt;= 3.5</tspan><tspan x="0" dy="20">entropy = 0.592</tspan><tspan x="0" dy="20">samples = 7</tspan><tspan x="0" dy="20">value = [0, 0, 1, 6]</tspan></text></g>
<g id="n78" transform="translate(2896,1436.5)"><use href="#D4"/><text y="-25"><tspan x="0">buying &lt;= 1.5</tspan><tspan x="0" dy="20">entropy = 0.918</tspan><tspan x="0" dy="20">samples = 3</tspan><tspan x="0" dy="20">value = [0, 0, 1, 2]</tspan></text></g>
<g id="n79" transform="translate(2896,1575.1)"><use href="#L4"/><text y="-15"><tspan x="0">entropy = 0.0</tspan><tspan x="0" dy="20">samples = 1</tspan><tspan x="0" dy="20">value = [0, 0, 1, 0]</tspan></text></g>
<g id="n80" transform="translate(3078,1575.1)"><use href="#L4"/><text y="-15"><tspan x="0">entropy = 0.0</tspan><tspan x="0" dy="20">samples = 2</tspan><tspan x="0" dy="20">value = [0, 0, 0, 2]</tspan></text></g>
<g id="n81" transform="translate(3078,1436.5)"><use href="#L4"/><text y="-15"><tspan x="0">entropy = 0.0</tspan><tspan x="0" dy="20">samples = 4</tspan><tspan x="0" dy="20">value = [0, 0, 0, 4]</tspan></text></g>
<g id="n82" transform="translate(3268,1297.9)"><use href="#D4"/><text y="-25"><tspan x="0">persons &lt;= 4.5</tspan><tspan x="0" dy="20">entropy = 0.985</tspan><tspan x="0" dy="20">samples = 7</tspan><tspan x="0" dy="20">value = [0, 0, 4, 3]</tspan></text></g>
<g id="n83" transform="translate(3263,1436.5)"><use href="#L4"/><text y="-15"><tspan x="0">entropy = 0.0</tspan><tspan x="0" dy="20">samples = 3</tspan><tspan x="0" dy="20">value = [0, 0, 0, 3]</tspan></text></g>
<g id="n84" transform="translate(3447,1436.5)"><use href="#L4"/><text y="-15"><tspan x="0">entropy = 0.0</tspan><tspan x="0" dy="20">samples = 4</tspan><tspan x="0" dy="20">value = [0, 0, 4, 0]</tspan></text></g>
<g id="n85" transform="translate(3457,1159.3)"><use href="#L5"/><text y="-15"><tspan x="0">entropy = 0.0</tspan><tspan x="0" dy="20">samples = 13</tspan><tspan x="0" dy="20">value = [0, 0, 13, 0]</tspan></text></g>
<g id="n86" transform="translate(3714,882.1)"><use href="#L5"/><text y="-15"><tspan x="0">entropy = 0.0</tspan><tspan x="0" dy="20">samples = 31</tspan><tspan x="0" dy="20">value = [0, 0, 31, 0]</tspan></text></g>
<g id="n87" transform="translate(4073,743.5)"><use href="#D6"/><text y="-25"><tspan x="0">buying &lt;= 1.5</tspan><tspan x="0" dy="20">entropy = 0.848</tspan><tspan x="0" dy="20">samples = 82</tspan><tspan x="0" dy="20">value = [13, 0, 66, 3]</tspan></text></g>
<g id="n88" transform="translate(4073,882.1)"><use href="#D6"/><text y="-25"><tspan x="0">maint &lt;= 3.5</tspan><tspan x="0" dy="20">entropy = 1.053</tspan><tspan x="0" dy="20">samples = 41</tspan><tspan x="0" dy="20">value = [13, 0, 27, 1]</tspan></text></g>
<g id="n89" transform="translate(3978,1020.7)"><use href="#D5"/><text y="-25"><tspan x="0">lug_boot &lt;= 1.5</tspan><tspan x="0" dy="20">entropy = 1.192</tspan><tspan x="0" dy="20">samples = 23</tspan><tspan x="0" dy="20">value = [13, 0, 9, 1]</tspan></text></g>
<g id="n90" transform="translate(3811,1159.3)"><use href="#D4"/><text y="-25"><tspan x="0">doors &lt;= 2.5</tspan><tspan x="0" dy="20">entropy = 0.592</tspan><tspan x="0" dy="20">samples = 7</tspan><tspan x="0" dy="20">value = [0, 0, 6, 1]</tspan></text></g>
<g id="n91" transform="translate(3631,1297.9)"><use href="#D4"/><text y="-25"><tspan x="0">persons &lt;= 4.5</tspan><tspan x="0" dy="20">entropy = 1.0</tspan><tspan x="0" dy="20">samples = 2</tspan><tspan x="0" dy="20">value = [0, 0, 1, 1]</tspan></text></g>
<g id="n92" transform="translate(3631,1436.5)"><use href="#L4"/><text y="-15"><tspan x="0">entropy = 0.0</tspan><tspan x="0" dy="20">samples = 1</tspan><tspan x="0" dy="20">value = [0, 0, 1, 0]</tspan></text></g>
<g id="n93" transform="translate(3815,1436.5)"><use href="#L4"/><text y="-15"><tspan x="0">entropy = 0.0</tspan><tspan x="0" dy="20">samples = 1</tspan><tspan x="0" dy="20">value = [0, 0, 0, 1]</tspan></text></g>
<g id="n94" transform="translate(3815,1297.9)"><use href="#L4"/><text y="-15"><tspan x="0">entropy = 0.0</tspan><tspan x="0" dy="20">samples = 5</tspan><tspan x="0" dy="20">value = [0, 0, 5, 0]</tspan></text></g>
<g id="n95" transform="translate(4001,1159.3)"><use href="#D5"/><text y="-25"><tspan x="0">doors &lt;= 3.5</tspan><tspan x="0" dy="20">entropy = 0.696</tspan><tspan x="0" dy="20">samples = 16</tspan><tspan x="0" dy="20">value = [13, 0, 3, 0]</tspan></text></g>
<g id="n96" transform="translate(3999,1297.9)"><use href="#D4"/><text y="-25"><tspan x="0">lug_boot &lt;= 2.5</tspan><tspan x="0" dy="20">entropy = 0.954</tspan><tspan x="0" dy="20">samples = 8</tspan><tspan x="0" dy="20">value = [5, 0, 3, 0]</tspan></text></g>
<g id="n97" transform="translate(3999,1436.5)"><use href="#D4"/><text y="-25"><tspan x="0">doors &lt;= 2.5</tspan><tspan x="0" dy="20">entropy = 0.811</tspan><tspan x="0" dy="20">samples = 4</tspan><tspan x="0" dy="20">value = [1, 0, 3, 0]</tspan></text></g>
<g id="n98" transform="translate(3907,1575.1)"><use href="#L4"/><text y="-15"><tspan x="0">entropy = 0.0</tspan><tspan x="0" dy="20">samples = 2</tspan><tspan x="0" dy="20">value = [0, 0, 2, 0]</tspan></text></g>
<g id="n99" transform="translate(4091,1575.1)"><use href="#D4"/><text y="-25"><tspan x="0">persons &lt;= 4.5</tspan><tspan x="0" dy="20">entropy = 1.0</tspan><tspan x="0" dy="20">samples = 2</tspan><tspan x="0" dy="20">value = [1, 0, 1, 0]</tspan></text></g>
<g id="n100" transform="translate(3999,1703.2)"><use href="#L4"/><text y="-15"><tspan x="0">entropy = 0.0</tspan><tspan x="0" dy="20">samples = 1</tspan><tspan x="0" dy="20">value = [0, 0, 1, 0]</tspan></text></g>
<g id="n101" transform="translate(4183,1703.2)"><use href="#L4"/><text y="-15"><tspan x="0">entropy = 0.0</tspan><tspan x="0" dy="20">samples = 1</tspan><tspan x="0" dy="20">value = [1, 0, 0, 0]</tspan></text></g>
<g id="n102" transform="translate(4183,1436.5)"><use href="#L4"/><text y="-15"><tspan x="0">entropy = 0.0</tspan><tspan x="0" dy="20">samples = 4</tspan><tspan x="0" dy="20">value = [4, 0, 0, 0]</tspan></text></g>
<g id="n103" transform="translate(4183,1297.9)"><use href="#L4"/><text y="-15"><tspan x="0">entropy = 0.0</tspan><tspan x="0" dy="20">samples = 8</tspan><tspan x="0" dy="20">value = [8, 0, 0, 0]</tspan></text></g>
<g id="n104" transform="translate(4173,1020.7)"><use href="#L5"/><text y="-15"><tspan x="0">entropy = 0.0</tspan><tspan x="0" dy="20">samples = 18</tspan><tspan x="0" dy="20">value = [0, 0, 18, 0]</tspan></text></g>
<g id="n105" transform="translate(4366,882.1)"><use href="#D5"/><text y="-25"><tspan x="0">doors &lt;= 2.5</tspan><tspan x="0" dy="20">entropy = 0.281</tspan><tspan x="0" dy="20">samples = 41</tspan><tspan x="0" dy="20">value = [0, 0, 39, 2]</tspan></text></g>
<g id="n106" transform="translate(4365,1020.7)"><use href="#D4"/><text y="-25"><tspan x="0">lug_boot &lt;= 1.5</tspan><tspan x="0" dy="20">entropy = 0.764</tspan><tspan x="0" dy="20">samples = 9</tspan><tspan x="0" dy="20">value = [0, 0, 7, 2]</tspan></text></g>
<g id="n107" transform="translate(4365,1159.3)"><use href="#D4"/><text y="-25"><tspan x="0">persons &lt;= 4.5</tspan><tspan x="0" dy="20">entropy = 1.0</tspan><tspan x="0" dy="20">samples = 4</tspan><tspan x="0" dy="20">value = [0, 0, 2, 2]</tspan></text></g>
<g id="n108" transform="translate(4366,1297.9)"><use href="#L4"/><text y="-15"><tspan x="0">entropy = 0.0</tspan><tspan x="0" dy="20">samples = 2</tspan><tspan x="0" dy="20">value = [0, 0, 2, 0]</tspan></text></g>
<g id="n109" transform="translate(4551,1297.9)"><use href="#L4"/><text y="-15"><tspan x="0">entropy = 0.0</tspan><tspan x="0" dy="20">samples = 2</tspan><tspan x="0" dy="20">value = [0, 0, 0, 2]</tspan></text></g>
<g id="n110" transform="translate(4549,1159.3)"><use href="#L4"/><text y="-15"><tspan x="0">entropy = 0.0</tspan><tspan x="0" dy="20">samples = 5</tspan><tspan x="0" dy="20">value = [0, 0, 5, 0]</tspan></text></g>
<g id="n111" transform="translate(4555,1020.7)"><use href="#L5"/><text y="-15"><tspan x="0">entropy = 0.0</tspan><tspan x="0" dy="20">samples = 32</tspan><tspan x="0" dy="20">value = [0, 0, 32, 0]</tspan></text></g>
<g id="n112" transform="translate(4937,466.3)"><use href="#D8"/><text y="-25"><tspan x="0">maint &lt;= 3.5</tspan><tspan x="0" dy="20">entropy = 0.998</tspan><tspan x="0" dy="20">samples = 352</tspan><tspan x="0" dy="20">value = [0, 0, 166, 186]</tspan></text></g>
<g id="n113" transform="translate(4937,604.9)"><use href="#D7"/><text y="-25"><tspan x="0">safety &lt;= 2.5</tspan><tspan x="0" dy="20">entropy = 0.953</tspan><tspan x="0" dy="20">samples = 265</tspan><tspan x="0" dy="20">value = [0, 0, 166, 99]</tspan></text></g>
<g id="n114" transform="translate(4937,743.5)"><use href="#D6"/><text y="-25"><tspan x="0">lug_boot &lt;= 1.5</tspan><tspan x="0" dy="20">entropy = 0.989</tspan><tspan x="0" dy="20">samples = 135</tspan><tspan x="0" dy="20">value = [0, 0, 59, 76]</tspan></text></g>
<g id="n115" transform="translate(4839,882.1)"><use href="#L5"/><text y="-15"><tspan x="0">entropy = 0.0</tspan><tspan x="0" dy="20">samples = 46</tspan><tspan x="0" dy="20">value = [0, 0, 0, 46]</tspan></text></g>
<g id="n116" transform="translate(5037,882.1)"><use href="#D6"/><text y="-25"><tspan x="0">maint &lt;= 2.5</tspan><tspan x="0" dy="20">entropy = 0.922</tspan><tspan x="0" dy="20">samples = 89</tspan><tspan x="0" dy="20">value = [0, 0, 59, 30]</tspan></text></g>
<g id="n117" transform="translate(4936,1020.7)"><use href="#D6"/><text y="-25"><tspan x="0">doors &lt;= 3.5</tspan><tspan x="0" dy="20">entropy = 0.687</tspan><tspan x="0" dy="20">samples = 60</tspan><tspan x="0" dy="20">value = [0, 0, 49, 11]</tspan></text></g>
<g id="n118" transform="translate(4742,1159.3)"><use href="#D6"/><text y="-25"><tspan x="0">lug_boot &lt;= 2.5</tspan><tspan x="0" dy="20">entropy = 0.958</tspan><tspan x="0" dy="20">samples = 29</tspan><tspan x="0" dy="20">value = [0, 0, 18, 11]</tspan></text></g>
<g id="n119" transform="translate(4742,1297.9)"><use href="#D5"/><text y="-25"><tspan x="0">persons &lt;= 4.5</tspan><tspan x="0" dy="20">entropy = 0.837</tspan><tspan x="0" dy="20">samples = 15</tspan><tspan x="0" dy="20">value = [0, 0, 4, 11]</tspan></text></g>
<g id="n120" transform="translate(4613,1436.5)"><use href="#L4"/><text y="-15"><tspan x="0">entropy = 0.0</tspan><tspan x="0" dy="20">samples = 7</tspan><tspan x="0" dy="20">value = [0, 0, 0, 7]</tspan></text></g>
<g id="n121" transform="translate(4797,1436.5)"><use href="#D4"/><text y="-25"><tspan x="0">doors &lt;= 2.5</tspan><tspan x="0" dy="20">entropy = 1.0</tspan><tspan x="0" dy="20">samples = 8</tspan><tspan x="0" dy="20">value = [0, 0, 4, 4]</tspan></text></g>
<g id="n122" transform="translate(4687,1575.1)"><use href="#L4"/><text y="-15"><tspan x="0">entropy = 0.0</tspan><tspan x="0" dy="20">samples = 4</tspan><tspan x="0" dy="20">value = [0, 0, 0, 4]</tspan></text></g>
<g id="n123" transform="translate(4872,1575.1)"><use href="#L4"/><text y="-15"><tspan x="0">entropy = 0.0</tspan><tspan x="0" dy="20">samples = 4</tspan><tspan x="0" dy="20">value = [0, 0, 4, 0]</tspan></text></g>
<g id="n124" transform="translate(4935,1297.9)"><use href="#L5"/><text y="-15"><tspan x="0">entropy = 0.0</tspan><tspan x="0" dy="20">samples = 14</tspan><tspan x="0" dy="20">value = [0, 0, 14, 0]</tspan></text></g>
<g id="n125" transform="translate(4942,1159.3)"><use href="#L5"/><text y="-15"><tspan x="0">entropy = 0.0</tspan><tspan x="0" dy="20">samples = 31</tspan><tspan x="0" dy="20">value = [0, 0, 31, 0]</tspan></text></g>
<g id="n126" transform="translate(5139,1020.7)"><use href="#D6"/><text y="-25"><tspan x="0">buying &lt;= 3.5</tspan><tspan x="0" dy="20">entropy = 0.929</tspan><tspan x="0" dy="20">samples = 29</tspan><tspan x="0" dy="20">value = [0, 0, 10, 19]</tspan></text></g>
<g id="n127" transform="translate(5135,1159.3)"><use href="#D5"/><text y="-25"><tspan x="0">lug_boot &lt;= 2.5</tspan><tspan x="0" dy="20">entropy = 0.779</tspan><tspan x="0" dy="20">samples = 13</tspan><tspan x="0" dy="20">value = [0, 0, 10, 3]</tspan></text></g>
<g id="n128" transform="translate(5131,1297.9)"><use href="#D4"/><text y="-25"><tspan x="0">doors &lt;= 2.5</tspan><tspan x="0" dy="20">entropy = 1.0</tspan><tspan x="0" dy="20">samples = 6</tspan><tspan x="0" dy="20">value = [0, 0, 3, 3]</tspan></text></g>
<g id="n129" transform="translate(5039,1436.5)"><use href="#L4"/><text y="-15"><tspan x="0">entropy = 0.0</tspan><tspan x="0" dy="20">samples = 2</tspan><tspan x="0" dy="20">value = [0, 0, 0, 2]</tspan></text></g>
<g id="n130" transform="translate(5223,1436.5)"><use href="#D4"/><text y="-25"><tspan x="0">doors &lt;= 3.5</tspan><tspan x="0" dy="20">entropy = 0.811</tspan><tspan x="0" dy="20">samples = 4</tspan><tspan x="0" dy="20">value = [0, 0, 3, 1]</tspan></text></g>
<g id="n131" transform="translate(5131,1575.1)"><use href="#D4"/><text y="-25"><tspan x="0">persons &lt;= 4.5</tspan><tspan x="0" dy="20">entropy = 1.0</tspan><tspan x="0" dy="20">samples = 2</tspan><tspan x="0" dy="20">value = [0, 0, 1, 1]</tspan></text></g>
<g id="n132" transform="translate(5039,1703.2)"><use href="#L4"/><text y="-15"><tspan x="0">entropy = 0.0</tspan><tspan x="0" dy="20">samples = 1</tspan><tspan x="0" dy="20">value = [0, 0, 0, 1]</tspan></text></g>
<g id="n133" transform="translate(5223,1703.2)"><use href="#L4"/><text y="-15"><tspan x="0">entropy = 0.0</tspan><tspan x="0" dy="20">samples = 1</tspan><tspan x="0" dy="20">value = [0, 0, 1, 0]</tspan></text></g>
<g id="n134" transform="translate(5314,1575.1)"><use href="#L4"/><text y="-15"><tspan x="0">entropy = 0.0</tspan><tspan x="0" dy="20">samples = 2</tspan><tspan x="0" dy="20">value = [0, 0, 2, 0]</tspan></text></g>
<g id="n135" transform="translate(5314,1297.9)"><use href="#L4"/><text y="-15"><tspan x="0">entropy = 0.0</tspan><tspan x="0" dy="20">samples = 7</tspan><tspan x="0" dy="20">value = [0, 0, 7, 0]</tspan></text></g>
<g id="n136" transform="translate(5329,1159.3)"><use href="#L5"/><text y="-15"><tspan x="0">entropy = 0.0</tspan><tspan x="0" dy="20">samples = 16</tspan><tspan x="0" dy="20">value = [0, 0, 0, 16]</tspan></text></g>
<g id="n137" transform="translate(5612,743.5)"><use href="#D7"/><text y="-25"><tspan x="0">maint &lt;= 2.5</tspan><tspan x="0" dy="20">entropy = 0.673</tspan><tspan x="0" dy="20">samples = 130</tspan><tspan x="0" dy="20">value = [0, 0, 107, 23]</tspan></text></g>
<g id="n138" transform="translate(5611,882.1)"><use href="#D5"/><text y="-25"><tspan x="0">doors &lt;= 2.5</tspan><tspan x="0" dy="20">entropy = 0.213</tspan><tspan x="0" dy="20">samples = 89</tspan><tspan x="0" dy="20">value = [0, 0, 86, 3]</tspan></text></g>
<g id="n139" transform="translate(5517,1020.7)"><use href="#D5"/><text y="-25"><tspan x="0">lug_boot &lt;= 1.5</tspan><tspan x="0" dy="20">entropy = 0.559</tspan><tspan x="0" dy="20">samples = 23</tspan><tspan x="0" dy="20">value = [0, 0, 20, 3]</tspan></text></g>
<g id="n140" transform="translate(5517,1159.3)"><use href="#D4"/><text y="-25"><tspan x="0">persons &lt;= 4.5</tspan><tspan x="0" dy="20">entropy = 0.985</tspan><tspan x="0" dy="20">samples = 7</tspan><tspan x="0" dy="20">value = [0, 0, 4, 3]</tspan></text></g>
<g id="n141" transform="translate(5506,1297.9)"><use href="#L4"/><text y="-15"><tspan x="0">entropy = 0.0</tspan><tspan x="0" dy="20">samples = 4</tspan><tspan x="0" dy="20">value = [0, 0, 4, 0]</tspan></text></g>
<g id="n142" transform="translate(5690,1297.9)"><use href="#L4"/><text y="-15"><tspan x="0">entropy = 0.0</tspan><tspan x="0" dy="20">samples = 3</tspan><tspan x="0" dy="20">value = [0, 0, 0, 3]</tspan></text></g>
<g id="n143" transform="translate(5707,1159.3)"><use href="#L5"/><text y="-15"><tspan x="0">entropy = 0.0</tspan><tspan x="0" dy="20">samples = 16</tspan><tspan x="0" dy="20">value = [0, 0, 16, 0]</tspan></text></g>
<g id="n144" transform="translate(5711,1020.7)"><use href="#L5"/><text y="-15"><tspan x="0">entropy = 0.0</tspan><tspan x="0" dy="20">samples = 66</tspan><tspan x="0" dy="20">value = [0, 0, 66, 0]</tspan></text></g>
<g id="n145" transform="translate(5904,882.1)"><use href="#D6"/><text y="-25"><tspan x="0">buying &lt;= 3.5</tspan><tspan x="0" dy="20">entropy = 1.0</tspan><tspan x="0" dy="20">samples = 41</tspan><tspan x="0" dy="20">value = [0, 0, 21, 20]</tspan></text></g>
<g id="n146" transform="translate(5904,1020.7)"><use href="#D5"/><text y="-25"><tspan x="0">doors &lt;= 2.5</tspan><tspan x="0" dy="20">entropy = 0.267</tspan><tspan x="0" dy="20">samples = 22</tspan><tspan x="0" dy="20">value = [0, 0, 21, 1]</tspan></text></g>
<g id="n147" transform="translate(5900,1159.3)"><use href="#D4"/><text y="-25"><tspan x="0">lug_boot &lt;= 1.5</tspan><tspan x="0" dy="20">entropy = 0.722</tspan><tspan x="0" dy="20">samples = 5</tspan><tspan x="0" dy="20">value = [0, 0, 4, 1]</tspan></text></g>
<g id="n148" transform="translate(5883,1297.9)"><use href="#D4"/><text y="-25"><tspan x="0">persons &lt;= 4.5</tspan><tspan x="0" dy="20">entropy = 1.0</tspan><tspan x="0" dy="20">samples = 2</tspan><tspan x="0" dy="20">value = [0, 0, 1, 1]</tspan></text></g>
<g id="n149" transform="translate(5792,1436.5)"><use href="#L4"/><text y="-15"><tspan x="0">entropy = 0.0</tspan><tspan x="0" dy="20">samples = 1</tspan><tspan x="0" dy="20">value = [0, 0, 1, 0]</tspan></text></g>
<g id="n150" transform="translate(5975,1436.5)"><use href="#L4"/><text y="-15"><tspan x="0">entropy = 0.0</tspan><tspan x="0" dy="20">samples = 1</tspan><tspan x="0" dy="20">value = [0, 0, 0, 1]</tspan></text></g>
<g id="n151" transform="translate(6067,1297.9)"><use href="#L4"/><text y="-15"><tspan x="0">entropy = 0.0</tspan><tspan x="0" dy="20">samples = 3</tspan><tspan x="0" dy="20">value = [0, 0, 3, 0]</tspan></text></g>
<g id="n152" transform="translate(6090,1159.3)"><use href="#L5"/><text y="-15"><tspan x="0">entropy = 0.0</tspan><tspan x="0" dy="20">samples = 17</tspan><tspan x="0" dy="20">value = [0, 0, 17, 0]</tspan></text></g>
<g id="n153" transform="translate(6098,1020.7)"><use href="#L5"/><text y="-15"><tspan x="0">entropy = 0.0</tspan><tspan x="0" dy="20">samples = 19</tspan><tspan x="0" dy="20">value = [0, 0, 0, 19]</tspan></text></g>
<g id="n154" transform="translate(5140,604.9)"><use href="#L5"/><text y="-15"><tspan x="0">entropy = 0.0</tspan><tspan x="0" dy="20">samples = 87</tspan><tspan x="0" dy="20">value = [0, 0, 0, 87]</tspan></text></g>
</svg>
